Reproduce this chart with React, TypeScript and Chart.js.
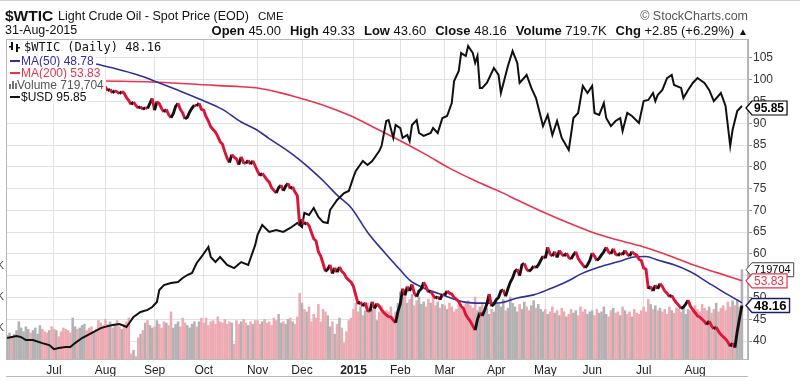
import React, { useEffect, useRef } from "react";
import { Chart, registerables } from "chart.js";

Chart.register(...registerables);

// ---------- data ----------
// trading-day index 0 = 3 Jun 2014 ... 314 = 31 Aug 2015
const monthTickIdx = [20, 42, 63, 84, 107, 126, 148, 168, 187, 209, 230, 250, 272, 294];
const monthTickLabels = ["Jul", "Aug", "Sep", "Oct", "Nov", "Dec", "2015", "Feb", "Mar", "Apr", "May", "Jun", "Jul", "Aug"];
const priceTicks = [40, 45, 50, 55, 60, 65, 70, 75, 80, 85, 90, 95, 100, 105];

const wticClose = [
  // Jun 2014
  102.7, 103.6, 102.5, 102.7, 104.4, 104.4, 104.4, 106.5, 106.9, 106.9, 106.4, 106.4, 106.4, 106.5, 106.8, 106.2, 106.0, 105.8, 106.3, 105.4,
  // Jul
  104.5, 104.5, 104.0, 103.5, 103.4, 102.3, 100.9, 100.8, 100.9, 101.2, 100.9, 103.2, 103.2, 104.6, 104.5, 103.1, 102.1, 102.2, 101.8, 101.7, 100.3, 98.9,
  // Aug
  98.3, 97.5, 97.8, 97.0, 97.5, 97.2, 96.8, 97.3, 96.9, 95.9, 95.2, 94.3, 94.9, 94.1, 93.5, 93.8, 93.2, 93.6, 93.4, 94.6, 95.7,
  // Sep
  93.0, 95.0, 94.5, 93.4, 92.6, 93.2, 92.0, 91.3, 92.2, 93.9, 94.6, 93.2, 92.4, 91.0, 91.4, 92.6, 93.5, 94.2, 94.0, 94.6, 93.2,
  // Oct
  93.0, 91.5, 90.5, 89.2, 88.6, 88.0, 87.0, 85.8, 85.2, 83.5, 82.0, 81.0, 82.8, 82.2, 81.8, 80.5, 82.3, 81.0, 80.8, 81.5, 80.6, 81.4, 80.2,
  // Nov
  79.0, 78.0, 78.5, 77.8, 77.0, 76.5, 75.2, 74.6, 74.0, 75.2, 75.8, 74.5, 75.6, 76.2, 75.0, 75.4, 74.2, 73.4, 66.5,
  // Dec
  68.0, 66.8, 67.2, 66.5, 65.0, 63.5, 63.0, 60.5, 59.5, 57.8, 56.0, 56.5, 57.5, 55.5, 56.8, 55.8, 57.0, 56.0, 55.5, 54.5, 54.0, 53.5,
  // Jan 2015
  52.5, 50.5, 48.5, 49.0, 48.0, 48.8, 47.0, 46.8, 49.0, 47.5, 48.6, 48.0, 47.2, 46.5, 46.0, 45.6, 45.5, 44.8, 44.2, 46.8,
  // Feb
  48.5, 52.0, 50.5, 52.5, 51.5, 53.0, 51.0, 50.2, 51.5, 52.0, 53.5, 52.5, 51.2, 51.5, 50.5, 49.8, 50.2, 49.5, 50.8,
  // Mar
  50.5, 51.5, 51.0, 50.8, 50.0, 49.6, 49.0, 48.0, 47.5, 46.0, 45.2, 44.5, 43.5, 42.5, 45.0, 46.5, 45.8, 47.0, 48.5, 50.8, 48.0, 48.5,
  // Apr
  49.5, 50.0, 51.5, 51.8, 50.3, 52.0, 53.5, 54.5, 56.0, 56.5, 55.0, 57.5, 57.8, 56.5, 56.0, 56.5, 57.2, 56.8, 57.5, 58.5, 59.5,
  // May
  59.0, 61.5, 60.0, 59.5, 60.5, 59.2, 60.8, 60.0, 59.5, 60.2, 59.2, 58.8, 59.8, 60.5, 59.0, 58.2, 57.5, 56.8, 57.5, 58.5,
  // Jun
  60.2, 59.5, 58.5, 59.0, 59.8, 60.5, 61.5, 60.5, 60.0, 61.2, 60.0, 59.6, 60.2, 59.8, 60.8, 60.0, 59.5, 60.5, 60.0, 59.8, 58.8, 58.5,
  // Jul
  56.8, 56.5, 52.0, 52.5, 51.5, 52.8, 52.0, 53.2, 52.5, 51.5, 51.0, 50.2, 50.5, 49.5, 48.8, 48.2, 47.5, 47.8, 48.5, 49.4, 48.0, 47.2,
  // Aug
  46.5, 45.8, 45.5, 45.0, 44.5, 43.8, 44.6, 43.5, 42.8, 43.2, 42.2, 41.5, 41.0, 40.5, 39.8, 38.8, 39.5, 38.5, 42.2, 45.31, 48.16,
];

// volume in thousands
const volumeK = [
  190, 210, 180, 200, 230, 300, 250, 220, 260, 240, 210, 230, 250, 200, 270, 240, 220, 210, 230, 260,
  240, 230, 180, 220, 250, 240, 230, 210, 330, 260, 240, 250, 270, 280, 230, 250, 260, 220, 240, 310, 290, 270,
  320, 280, 300, 250, 270, 310, 260, 240, 280, 300, 330, 40, 70, 20, 170, 200, 230, 290, 310, 270, 250,
  260, 310, 280, 250, 300, 290, 270, 380, 250, 280, 300, 260, 330, 290, 270, 250, 280, 300, 260, 300, 330,
  290, 330, 270, 300, 310, 280, 340, 300, 290, 320, 280, 300, 290, 120, 310, 280, 300, 320, 290, 270, 300, 280, 310,
  310, 280, 300, 320, 290, 300, 270, 330, 310, 360, 290, 300, 280, 320, 330, 300, 280, 340, 530,
  450, 400, 380, 420, 300, 360, 330, 440, 300, 400, 380, 350, 260, 300, 200, 280, 330, 250, 130, 220, 310, 330,
  400, 450, 380, 420, 350, 390, 450, 380, 400, 420, 310, 380, 430, 360, 390, 380, 420, 340, 380, 450,
  540, 500, 560, 450, 480, 520, 430, 470, 500, 440, 460, 420, 480, 450, 500, 430, 460, 410, 440,
  430, 400, 450, 420, 380, 400, 440, 410, 380, 450, 470, 430, 410, 500, 390, 420, 440, 380, 410, 360, 400, 380,
  470, 440, 420, 480, 390, 410, 500, 450, 420, 380, 440, 400, 460, 420, 390, 430, 470, 410, 440, 400, 380,
  400, 360, 380, 420, 370, 390, 350, 410, 380, 340, 360, 400, 370, 390, 350, 420, 380, 400, 360, 380,
  390, 350, 400, 370, 380, 420, 360, 340, 390, 410, 370, 380, 350, 420, 390, 360, 380, 340, 400, 370, 360, 390,
  420, 380, 480, 440, 400, 430, 390, 410, 380, 400, 360, 420, 390, 370, 410, 400, 380, 420, 360, 400, 390, 410,
  430, 400, 380, 440, 410, 390, 420, 370, 400, 450, 380, 410, 430, 390, 460, 420, 470, 430, 480, 420, 719.704,
];

const ma50Idx = [38, 46, 56, 62, 72, 83, 92, 100, 106, 112, 119, 125, 130, 136, 141, 147, 154, 161, 168, 172, 178, 186, 195, 203, 211, 218, 225, 232, 239, 246, 253, 261, 268, 273, 278, 285, 292, 299, 306, 314];
const ma50Val = [103.6, 102.6, 101.1, 99.9, 97.8, 95.4, 93.2, 90.3, 88.7, 86.5, 84.0, 81.6, 79.3, 76.3, 73.5, 70.6, 65.0, 60.5, 56.3, 54.0, 52.2, 50.6, 49.0, 48.7, 48.8, 49.9, 50.6, 52.0, 53.6, 55.6, 57.0, 58.2, 59.3, 59.4, 58.6, 57.5, 55.9, 53.6, 51.3, 48.78];

const ma200Idx = [42, 62, 82, 100, 107, 116, 125, 136, 146, 157, 168, 179, 189, 200, 211, 218, 230, 240, 250, 261, 272, 283, 293, 304, 314];
const ma200Val = [99.7, 99.5, 98.9, 98.4, 98.1, 97.1, 95.8, 94.0, 91.9, 89.0, 86.0, 82.8, 79.7, 76.8, 74.2, 72.4, 69.4, 67.1, 65.0, 63.2, 61.6, 59.6, 57.5, 55.6, 53.83];

const usdIdx = [0, 4, 6, 8, 11, 15, 18, 20, 22, 25, 27, 29, 32, 36, 40, 43, 45, 48, 51, 54, 57, 60, 62, 64, 65, 67, 70, 73, 75, 77, 79, 81, 83, 86, 87, 89, 91, 94, 97, 100, 103, 106, 107, 109, 112, 115, 118, 121, 124, 126, 127, 129, 131, 133, 135, 137, 138, 141, 144, 146, 148, 149, 152, 154, 156, 159, 160, 162, 163, 165, 166, 168, 169, 171, 172, 173, 175, 176, 178, 181, 182, 184, 186, 188, 190, 191, 193, 194, 196, 197, 199, 200, 201, 202, 203, 205, 208, 210, 211, 214, 216, 218, 219, 222, 224, 226, 229, 231, 233, 235, 237, 239, 240, 242, 244, 246, 248, 250, 251, 253, 255, 256, 258, 260, 262, 263, 265, 267, 270, 272, 274, 276, 277, 278, 280, 282, 284, 285, 288, 289, 291, 293, 295, 298, 300, 302, 305, 307, 309, 310, 312, 314];
const usdVal = [78.50, 78.65, 78.57, 78.35, 78.35, 78.12, 77.97, 77.67, 77.75, 77.82, 77.82, 78.12, 78.50, 78.87, 79.24, 79.39, 79.47, 79.54, 79.32, 80.07, 80.45, 80.60, 80.82, 81.19, 82.09, 82.46, 82.61, 82.69, 82.99, 83.21, 83.36, 84.11, 84.56, 85.31, 84.56, 84.18, 84.56, 83.96, 83.73, 84.18, 83.96, 85.46, 86.21, 86.95, 86.43, 86.58, 86.43, 86.73, 87.10, 86.80, 87.85, 87.70, 88.22, 87.55, 87.17, 87.10, 88.07, 88.82, 89.34, 89.50, 90.54, 91.00, 91.74, 91.44, 91.74, 92.48, 92.86, 94.73, 94.80, 93.46, 94.43, 94.20, 93.46, 93.68, 93.23, 94.43, 94.80, 93.83, 93.61, 93.83, 94.20, 93.83, 94.95, 95.10, 96.07, 97.72, 98.47, 99.81, 99.59, 100.34, 99.81, 99.07, 99.59, 97.20, 97.20, 97.57, 98.69, 98.17, 96.82, 98.84, 99.96, 99.07, 97.57, 98.17, 97.20, 96.45, 94.35, 95.18, 93.68, 94.73, 93.46, 92.86, 92.56, 94.95, 95.33, 97.35, 96.82, 97.35, 95.33, 95.18, 96.07, 94.95, 94.35, 94.73, 94.95, 93.98, 95.33, 95.10, 94.58, 96.22, 96.30, 96.82, 96.22, 96.67, 97.05, 97.94, 98.17, 97.42, 97.20, 96.45, 97.05, 97.57, 97.94, 97.57, 97.05, 96.22, 96.82, 95.85, 92.86, 94.05, 95.48, 95.85];

const legendTexts = ["$WTIC (Daily) 48.16", "MA(50) 48.78", "MA(200) 53.83", "Volume 719,704", "$USD 95.85"];
const statLabels = ["Open", "High", "Low", "Close", "Volume", "Chg"];
const statValues = ["45.00", "49.33", "43.60", "48.16", "719.7K", "+2.85 (+6.29%)"];
const volAxisLabels = [250, 500, 750];

// ---------- styling ----------
const FONT = '"Liberation Sans", Arial, Helvetica, sans-serif';
const RED = "#dc1436";
const BLACK = "#111111";
const MA50C = "#2f2f9c";
const MA200C = "#e8344f";
const GRAY_BAR = "#b2b2b2";
const PINK_BAR = "#eeaab2";
const GRID = "#e2e2e2";

function drawTag(ctx: CanvasRenderingContext2D, x: number, y: number, text: string, font: string, textColor: string, border: string, lw: number) {
  ctx.font = font;
  const tw = ctx.measureText(text).width;
  const h = 14;
  const tip = 6;
  const w = tw + 5;
  ctx.beginPath();
  ctx.moveTo(x, y);
  ctx.lineTo(x + tip, y - h / 2);
  ctx.lineTo(x + tip + w, y - h / 2);
  ctx.lineTo(x + tip + w, y + h / 2);
  ctx.lineTo(x + tip, y + h / 2);
  ctx.closePath();
  ctx.fillStyle = "#fff";
  ctx.fill();
  ctx.strokeStyle = border;
  ctx.lineWidth = lw;
  ctx.stroke();
  ctx.fillStyle = textColor;
  ctx.textAlign = "left";
  ctx.textBaseline = "middle";
  ctx.fillText(text, x + tip + 2, y + 0.5);
}

const decorPlugin = {
  id: "decor",
  beforeDraw(chart: any) {
    const ctx = chart.ctx;
    ctx.save();
    ctx.fillStyle = "#fff";
    ctx.fillRect(0, 0, chart.width, chart.height);
    ctx.restore();
  },
  afterDraw(chart: any) {
    const ctx: CanvasRenderingContext2D = chart.ctx;
    const a = chart.chartArea;
    const s = chart.scales;
    ctx.save();
    // top line
    ctx.fillStyle = "#d0d0d0";
    ctx.fillRect(0, 0, chart.width, 1);
    // plot border
    ctx.strokeStyle = "#b8b8b8";
    ctx.lineWidth = 1;
    ctx.strokeRect(a.left + 0.5, a.top + 0.5, a.right - a.left - 1, a.bottom - a.top);
    // lower panel line
    ctx.beginPath();
    ctx.moveTo(a.left, 376.5);
    ctx.lineTo(a.right, 376.5);
    ctx.stroke();

    // clipped volume axis labels on the far left
    ctx.font = `11px ${FONT}`;
    ctx.fillStyle = "#555";
    ctx.textAlign = "right";
    ctx.textBaseline = "middle";
    volAxisLabels.forEach((v) => ctx.fillText(`${v}K`, 4, s.yVol.getPixelForValue(v)));

    // legend
    const rows = [
      { y0: 40, y1: 55, base: 51, tx: 24, font: '12px "DejaVu Sans Mono", monospace', color: "#111", icon: "ohlc", ic: "#111" },
      { y0: 55, y1: 67, base: 65, tx: 21, font: `12px ${FONT}`, color: MA50C, icon: "line", ic: MA50C },
      { y0: 67, y1: 79, base: 77, tx: 21, font: `12px ${FONT}`, color: MA200C, icon: "line", ic: MA200C },
      { y0: 79, y1: 91, base: 89, tx: 17, font: `12px ${FONT}`, color: "#555", icon: "vol", ic: "#777" },
      { y0: 91, y1: 103, base: 101, tx: 21, font: `12px ${FONT}`, color: "#111", icon: "line", ic: "#111" },
    ];
    ctx.textAlign = "left";
    ctx.textBaseline = "alphabetic";
    rows.forEach((r, i) => {
      ctx.font = r.font;
      const w = ctx.measureText(legendTexts[i]).width;
      ctx.fillStyle = "#fff";
      ctx.fillRect(a.left + 1, r.y0, r.tx + w + 2 - (a.left + 1), r.y1 - r.y0);
      const mid = r.base - 4;
      ctx.fillStyle = r.ic;
      if (r.icon === "line") {
        ctx.fillRect(10, mid - 1, 10, 2);
      } else if (r.icon === "vol") {
        ctx.fillRect(9, mid - 1, 2, 5);
        ctx.fillRect(12, mid - 4, 2, 8);
        ctx.fillRect(15, mid - 2, 2, 6);
      } else {
        ctx.fillRect(11, mid - 5, 2, 8);
        ctx.fillRect(9, mid - 1, 2, 1.5);
        ctx.fillRect(16, mid - 3, 2, 8);
        ctx.fillRect(18, mid, 2, 1.5);
      }
      ctx.fillStyle = r.color;
      ctx.fillText(legendTexts[i], r.tx, r.base);
    });

    // value tags on the right
    const tx = a.right - 2;
    drawTag(ctx, tx, s.yUsd.getPixelForValue(usdVal[usdVal.length - 1]) + 2, usdVal[usdVal.length - 1].toFixed(2), `bold 12px ${FONT}`, "#000", "#000", 1.2);
    drawTag(ctx, tx, s.yVol.getPixelForValue(volumeK[volumeK.length - 1]), String(Math.round(volumeK[volumeK.length - 1] * 1000)), `11px ${FONT}`, "#000", "#444", 1);
    drawTag(ctx, tx, s.y.getPixelForValue(ma200Val[ma200Val.length - 1]), ma200Val[ma200Val.length - 1].toFixed(2), `12px ${FONT}`, MA200C, MA200C, 1.2);
    drawTag(ctx, tx, s.y.getPixelForValue(wticClose[wticClose.length - 1]), wticClose[wticClose.length - 1].toFixed(2), `bold 13px ${FONT}`, "#000", "#1d1d6b", 1.4);
    ctx.restore();
  },
};

export default function App() {
  const ref = useRef<HTMLCanvasElement>(null);

  useEffect(() => {
    const canvas = ref.current;
    if (!canvas) return;
    const pricePts = wticClose.map((v, i) => ({ x: i, y: v }));
    const volPts = volumeK.map((v, i) => ({ x: i, y: v }));
    const volColors = wticClose.map((c, i) => (i > 0 && c < wticClose[i - 1] ? PINK_BAR : GRAY_BAR));
    const ma50Pts = ma50Idx.map((x, i) => ({ x, y: ma50Val[i] }));
    const ma200Pts = ma200Idx.map((x, i) => ({ x, y: ma200Val[i] }));
    const usdPts = usdIdx.map((x, i) => ({ x, y: usdVal[i] }));

    const chart = new Chart(canvas, {
      type: "line",
      data: {
        datasets: [
          {
            type: "bar",
            data: volPts as any,
            yAxisID: "yVol",
            backgroundColor: volColors,
            borderWidth: 0,
            barThickness: 1.9,
            order: 10,
          } as any,
          {
            data: ma200Pts as any,
            yAxisID: "y",
            borderColor: MA200C,
            borderWidth: 1.6,
            pointRadius: 0,
            cubicInterpolationMode: "monotone",
            order: 4,
          },
          {
            data: ma50Pts as any,
            yAxisID: "y",
            borderColor: MA50C,
            borderWidth: 1.6,
            pointRadius: 0,
            cubicInterpolationMode: "monotone",
            order: 3,
          },
          {
            data: usdPts as any,
            yAxisID: "yUsd",
            borderColor: BLACK,
            borderWidth: 2,
            pointRadius: 0,
            order: 2,
          },
          {
            data: pricePts as any,
            yAxisID: "y",
            borderColor: BLACK,
            borderWidth: 2.9,
            pointRadius: 0,
            segment: {
              borderColor: (c: any) => (c.p1.parsed.y < c.p0.parsed.y ? RED : BLACK),
            },
            order: 1,
          },
        ],
      },
      options: {
        animation: false,
        responsive: false,
        maintainAspectRatio: false,
        devicePixelRatio: 1,
        events: [],
        layout: { padding: { top: 39, left: 6, right: 0, bottom: 0 } },
        plugins: { legend: { display: false }, tooltip: { enabled: false } },
        scales: {
          x: {
            type: "linear",
            min: -0.5,
            max: 316.6,
            offset: false,
            afterBuildTicks: (sc: any) => {
              sc.ticks = monthTickIdx.map((v) => ({ value: v }));
            },
            afterFit: (sc: any) => {
              sc.height = 22;
            },
            grid: { color: GRID, drawTicks: false, offset: false },
            border: { display: false },
            ticks: {
              autoSkip: false,
              maxRotation: 0,
              padding: 4,
              color: "#222",
              font: (c: any) => ({
                family: FONT,
                size: 12,
                weight: monthTickLabels[c.index] === "2015" ? "bold" : "normal",
              }),
              callback: (v: any) => {
                const k = monthTickIdx.indexOf(Number(v));
                return k >= 0 ? monthTickLabels[k] : "";
              },
            },
          },
          y: {
            type: "linear",
            position: "right",
            min: 35.88,
            max: 109.36,
            afterBuildTicks: (sc: any) => {
              sc.ticks = priceTicks.map((v) => ({ value: v }));
            },
            afterFit: (sc: any) => {
              sc.width = 52;
            },
            grid: { color: GRID, drawTicks: true, tickLength: 4, tickColor: "#999" },
            border: { display: true, color: "#b0b0b0" },
            ticks: {
              color: "#333",
              padding: 1,
              font: { family: FONT, size: 12 },
              callback: (v: any) => String(v),
            },
          },
          yVol: { type: "linear", display: false, min: 0, max: 2580 },
          yUsd: { type: "linear", display: false, min: 76.93, max: 100.86 },
        },
      } as any,
      plugins: [decorPlugin as any],
    });
    return () => chart.destroy();
  }, []);

  const txt: React.CSSProperties = { position: "absolute", whiteSpace: "nowrap", lineHeight: 1, fontFamily: FONT, color: "#111" };

  return (
    <div style={{ position: "absolute", left: 0, top: 0, width: 800, height: 381, background: "#fff", overflow: "hidden" }}>
      <canvas ref={ref} width={800} height={381} style={{ position: "absolute", left: 0, top: 0, width: 800, height: 381 }} />
      <div style={{ ...txt, left: 5, top: 8, fontSize: 15.5, fontWeight: "bold" }}>$WTIC</div>
      <div style={{ ...txt, left: 58, top: 10.4, fontSize: 12.5 }}>Light Crude Oil - Spot Price (EOD)</div>
      <div style={{ ...txt, left: 258, top: 11.3, fontSize: 11.5 }}>CME</div>
      <div style={{ ...txt, right: 52, top: 9.6, fontSize: 12.5, color: "#555" }}>© StockCharts.com</div>
      <div style={{ ...txt, left: 5, top: 24.4, fontSize: 12.5 }}>31-Aug-2015</div>
      <div style={{ ...txt, right: 52, top: 24, fontSize: 13 }}>
        {statLabels.map((l, i) => (
          <span key={l} style={{ marginLeft: i ? 9 : 0 }}>
            <b>{l}</b> {statValues[i]}
          </span>
        ))}
        <span style={{ marginLeft: 4, fontSize: 10 }}>▲</span>
      </div>
    </div>
  );
}
